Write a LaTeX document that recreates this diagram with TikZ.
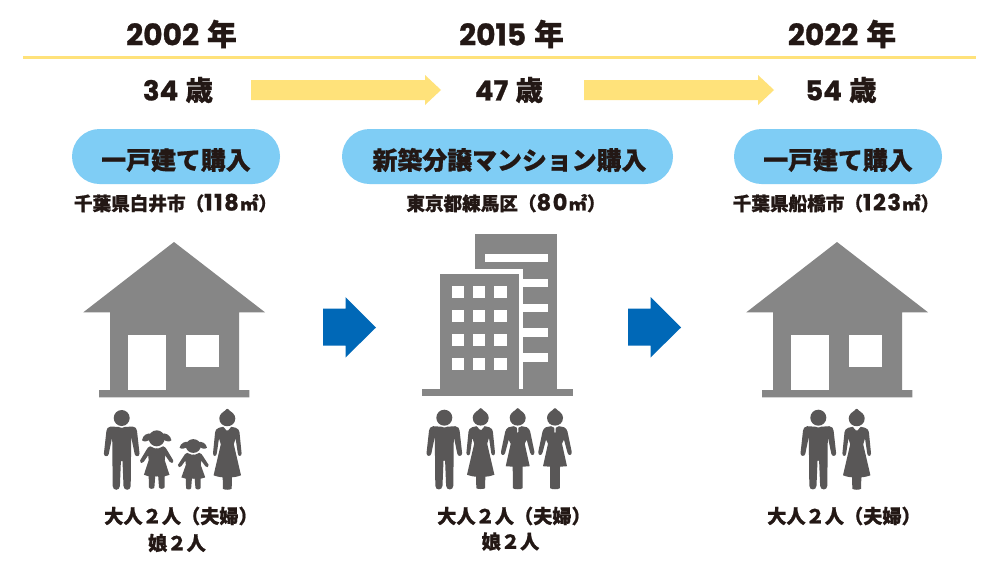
\documentclass[tikz,border=0pt]{standalone}
\usepackage{fontspec}
\setmainfont{Poppins}
\newfontfamily\cjk[FakeBold=0.9]{Noto Sans CJK JP}
\newfontfamily\num[FakeBold=0.9]{Poppins}
\newfontfamily\numw[FakeBold=0.9,LetterSpace=7]{Poppins}
\definecolor{ink}{HTML}{231815}
\definecolor{sunny}{HTML}{FFE27A}
\definecolor{sky}{HTML}{7FCDF5}
\definecolor{bluearrow}{HTML}{0068B7}
\definecolor{bldg}{HTML}{868686}
\definecolor{person}{HTML}{595757}
\newcommand{\CJ}[1]{{\cjk\bfseries #1}}
\newcommand{\NU}[1]{{\num\bfseries #1}}
\newcommand{\NB}[1]{{\numw\bfseries\fontsize{22.5}{22}\selectfont #1}}
\tikzset{
  yeartext/.style={text=ink,inner sep=0pt,font=\fontsize{29.8}{29}\selectfont},
  agetext/.style={text=ink,inner sep=0pt,font=\fontsize{27.5}{27}\selectfont},
  pilltext/.style={text=ink,inner sep=0pt,font=\fontsize{24.9}{25}\selectfont},
  subtext/.style={text=ink,inner sep=0pt,font=\fontsize{18.6}{18}\selectfont},
  captext/.style={text=ink,inner sep=0pt,font=\fontsize{19.2}{19}\selectfont},
  pillbox/.style={fill=sky,rounded corners=27.5pt},
  building/.style={fill=bldg},
  hole/.style={fill=white},
  pers/.style={fill=person},
  man/.pic={
    \fill[pers] (0,0) circle (8);
    \foreach \s in {1,-1}{
    \fill[pers,xscale=\s] (-0.3,10) -- (3,9) -- (11,8.5) .. controls (14,9) and (15,10.5) .. (15.3,13) -- (17.8,35.5) .. controls (17.8,39) and (13.5,39) .. (13,36) -- (9.5,19) -- (9,68) .. controls (9,73) and (2,73) .. (1.8,68) -- (0.8,43) -- (-0.3,43) -- cycle;}
  },
  womanhead/.pic={
    \fill[pers] (-8,0) .. controls (-8,-4) and (-4,-6.5) .. (-2.5,-7.5) .. controls (-1.5,-8.7) and (-0.7,-9.5) .. (0,-9.5) .. controls (0.7,-9.5) and (1.5,-8.7) .. (2.5,-7.5) .. controls (4,-6.5) and (8,-4) .. (8,0) .. controls (8,10.5) and (-8,10.5) .. (-8,0) -- cycle;
  },
  womanlong/.pic={
    \pic {womanhead};
    \foreach \s in {1,-1}{
    \fill[pers,xscale=\s] (-0.3,12) -- (0.5,12.5) -- (4,8.5) -- (8.5,9.5) .. controls (11,10.5) and (12,12) .. (12.2,14) -- (14.3,35) .. controls (14.3,38.5) and (10.7,38.5) .. (10.5,35) -- (8.3,20) -- (6.5,26) -- (13.7,57) .. controls (9,58.7) and (6,59) .. (4.6,59) -- (4.4,70.5) .. controls (4,71.3) and (1,71.3) .. (-0.3,71.3) -- cycle;}
  },
  womanshort/.pic={
    \pic {womanhead};
    \foreach \s in {1,-1}{
    \fill[pers,xscale=\s] (-0.3,15) -- (0.5,15) -- (0.8,10) -- (4,8.5) -- (9,9.5) .. controls (11,10.5) and (12,12) .. (12.5,14) -- (16.7,34) .. controls (17.3,38) and (13.3,38.5) .. (12.5,35) -- (9,22) -- (7,26) -- (12,48.5) -- (5,49) -- (4.8,70.5) .. controls (4.5,71.5) and (1,71.5) .. (-0.3,71.5) -- cycle;}
  },
  girl/.pic={
    \fill[pers] (0,0) circle (8);
    \foreach \s in {1,-1}{
    \fill[pers,xscale=\s] (5,-4.5) .. controls (9,-6) and (14,-3) .. (14.7,2) .. controls (13,4) and (8,3) .. (6,0.5) -- cycle;
    \fill[pers,xscale=\s] (-0.3,10) -- (2,10) -- (6.5,8) .. controls (8.5,8.5) and (9.5,10) .. (10.5,12) -- (16.5,22) .. controls (17,25) and (14,25.5) .. (13,23.5) -- (8.5,17) -- (8,22) -- (12.8,36.5) -- (8,38) -- (7.8,49) .. controls (7.3,51) and (2.8,51) .. (2.3,49) -- (1.5,38) -- (-0.3,38) -- cycle;}
  },
  house/.pic={
    \fill[building] (0,0) -- (91,70.3) -- (65,70.3) -- (65,148) -- (75.3,148) -- (75.3,155.3) -- (-75,155.3) -- (-75,148) -- (-64,148) -- (-64,70.3) -- (-90.7,70.3) -- cycle;
    \fill[hole] (-45.7,93) rectangle (-8,148);
    \fill[hole] (12,93) rectangle (44.7,124.7);
  },
}
\begin{document}
\begin{tikzpicture}[x=1pt,y=-1pt]
\useasboundingbox (0,0) rectangle (1000,563);
\fill[white] (0,0) rectangle (1000,563);
% rule
\coordinate (ruleL) at (23,57.5);
\coordinate (ruleR) at (976,57.5);
\draw[sunny,line width=2.6pt] (ruleL) -- (ruleR);
% years
\node[yeartext] (y1) at (181.5,34) {\NU{2002} \CJ{年}};
\node[yeartext] (y2) at (511.5,34) {\NU{2015} \CJ{年}};
\node[yeartext] (y3) at (842,34) {\NU{2022} \CJ{年}};
\node[agetext] (a1) at (178,90) {\NU{34} \CJ{歳}};
\node[agetext] (a2) at (509,90) {\NU{47} \CJ{歳}};
\node[agetext] (a3) at (841,90) {\NU{54} \CJ{歳}};
% yellow arrows
\fill[sunny] (251,80) -- (425,80) -- (425,75) -- (441,90) -- (425,105) -- (425,100) -- (251,100) -- cycle;
\fill[sunny] (584,80) -- (758,80) -- (758,75) -- (774,90) -- (758,105) -- (758,100) -- (584,100) -- cycle;
% pills
\fill[pillbox] (72,129) rectangle (280,184);
\fill[pillbox] (342,129) rectangle (673,184);
\fill[pillbox] (734,129) rectangle (942,184);
\node[pilltext] (p1) at (176,160) {\CJ{一戸建て購入}};
\node[pilltext] (p2) at (509.5,160) {\CJ{新築分譲マンション購入}};
\node[pilltext] (p3) at (838,160) {\CJ{一戸建て購入}};
\node[subtext] (s1) at (175.5,203) {\CJ{千葉県白井市（}\NB{118}\hspace{1pt}\CJ{㎡）}};
\node[subtext] (s2) at (506,203) {\CJ{東京都練馬区（}\NB{80}\hspace{1pt}\CJ{㎡）}};
\node[subtext] (s3) at (836,203) {\CJ{千葉県船橋市（}\NB{123}\hspace{1pt}\CJ{㎡）}};
% houses
\pic at (174,242) {house};
\pic at (837,242) {house};
% building
\fill[building] (422,389.3) rectangle (573.3,395.7);
\fill[building] (474.7,234.3) rectangle (557.3,390);
\fill[hole] (474.7,269.3) rectangle (522.7,274);
\fill[hole] (519,269.3) rectangle (522.7,389.3);
\fill[building] (440,273.7) rectangle (519,390);
\foreach \ya/\yb in {279/287.3,303.7/312,328.3/336.7,353/361.7}{
  \fill[hole] (522,\ya) rectangle (547.7,\yb);}
\fill[hole] (485.3,254.3) rectangle (547.7,262.3);
\foreach \ya/\yb in {286/298.3,310.3/322.3,334.3/346.3,358.3/370.3}{
  \foreach \xa/\xb in {452/464,473.3/485.3,494.3/506.7}{
    \fill[hole] (\xa,\ya) rectangle (\xb,\yb);}}
% blue arrows
\fill[bluearrow] (323,308.5) -- (345.5,308.5) -- (345.5,297) -- (376,327.5) -- (345.5,357.5) -- (345.5,345.5) -- (323,345.5) -- cycle;
\fill[bluearrow] (628,308.5) -- (650.5,308.5) -- (650.5,297) -- (681,327.5) -- (650.5,357.5) -- (650.5,345.5) -- (628,345.5) -- cycle;
% people
\pic at (121.7,418) {man};
\pic at (156.7,438.3) {girl};
\pic[xscale=0.93,yscale=0.86] at (193.3,446) {girl};
\pic at (227.3,418.3) {womanlong};
\pic at (444.3,417.7) {man};
\pic at (480.7,417.7) {womanlong};
\pic at (517.7,417.7) {womanshort};
\pic at (555,417.7) {womanshort};
\pic at (818.3,417.7) {man};
\pic at (856.7,418.3) {womanlong};
% captions
\node[captext] (c1) at (181,516) {\CJ{大人２人（夫婦）}};
\node[captext] (d1) at (177,543) {\CJ{娘２人}};
\node[captext] (c2) at (514,516) {\CJ{大人２人（夫婦）}};
\node[captext] (d2) at (510.5,541.5) {\CJ{娘２人}};
\node[captext] (c3) at (844,516) {\CJ{大人２人（夫婦）}};
\end{tikzpicture}
\end{document}
